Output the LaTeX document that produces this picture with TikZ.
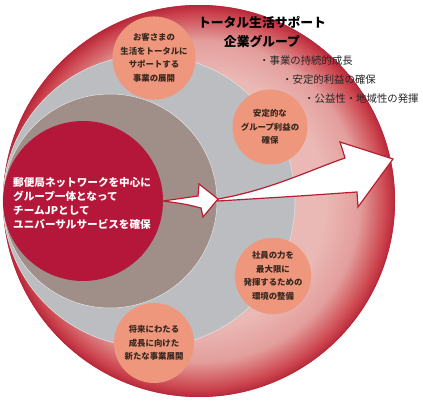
\documentclass[tikz,border=0pt]{standalone}
\usepackage{fontspec}
\setmainfont{Noto Sans CJK JP}
\definecolor{pk}{HTML}{EBB9B5}
\definecolor{pk2}{HTML}{E39E9C}
\definecolor{rd}{HTML}{CD4750}
\definecolor{drd}{HTML}{B8283A}
\definecolor{grayc}{HTML}{BCBDC0}
\definecolor{taupe}{HTML}{A08E88}
\definecolor{crim}{HTML}{B5173A}
\definecolor{salmon}{HTML}{EF977C}
\definecolor{arrowred}{HTML}{B51F2F}
\definecolor{txtc}{HTML}{3A2820}
\pgfdeclareradialshading{ballshade}{\pgfpoint{0bp}{0bp}}{color(0bp)=(pk); color(16bp)=(pk); color(20.5bp)=(pk2); color(23.8bp)=(rd); color(25bp)=(drd); color(50bp)=(drd)}
\begin{document}
\begin{tikzpicture}[x=1pt,y=-1pt,
  bubble/.style={circle, fill=salmon, inner sep=0pt, align=center, text=txtc,
    font=\bfseries\fontsize{8.4}{13.6}\selectfont},
  bullet/.style={anchor=west, inner sep=0pt, text=black!85, font=\fontsize{10.4}{12}\selectfont},
  whitearrow/.style={fill=white, draw=arrowred, line width=1.2pt, line join=miter}]
\useasboundingbox (0,0) rectangle (423,401);
% outer sphere
\shade[shading=ballshade] (199,201) circle[radius=196pt];
\draw[drd, line width=0.8pt] (199,201) circle[radius=195.6pt];
% nested circles tangent at the left
\fill[grayc] (149,201) circle[radius=146pt];
\draw[white!75!gray, line width=0.6pt] (149,201) circle[radius=146pt];
\fill[taupe] (110,201) circle[radius=107pt];
\draw[white!80!gray, line width=0.5pt] (110,201) circle[radius=107pt];
\fill[crim] (83,201) circle[radius=80pt];
% bubbles
\node[bubble, minimum size=79pt] (s1) at (154,58) {お客さまの\\生活をトータルに\\サポートする\\事業の展開};
\node[bubble, minimum size=75pt] (s2) at (270,127) {安定的な\\グループ利益の\\確保};
\node[bubble, minimum size=74pt] (s3) at (273,276) {社員の力を\\最大限に\\発揮するための\\環境の整備};
\node[bubble, minimum size=80pt] (s4) at (154,343) {将来にわたる\\成長に向けた\\新たな事業展開};
% arrows
\coordinate (a0) at (163,201);
\coordinate (a1) at (218,199);
\coordinate (a2) at (393,159);
\draw[whitearrow] (a0) .. controls (180,199) .. (198,196) -- (199,184) -- (a1) -- (203,217) -- (201,208) .. controls (185,204) .. (a0) -- cycle;
\draw[whitearrow] (a1) .. controls (270,190) and (310,170) .. (345,158) -- (340,142) -- (a2) -- (358,207) -- (357,192) .. controls (300,196) .. (218,201) -- cycle;
% main text
\node[anchor=west, align=left, inner sep=0pt, text=white, font=\bfseries\fontsize{10.6}{14}\selectfont] (main) at (13,203) {郵便局ネットワークを中心に\\グループ一体となって\\チームJPとして\\ユニバーサルサービスを確保};
% title and bullets
\node[align=center, inner sep=0pt, text=black, font=\bfseries\fontsize{12.8}{19}\selectfont] (title) at (262,32.5) {トータル生活サポート\\企業グループ};
\node[bullet] (b1) at (259,61) {・事業の持続的成長};
\node[bullet] (b2) at (282,80) {・安定的利益の確保};
\node[bullet] (b3) at (304,99) {・公益性・地域性の発揮};
\end{tikzpicture}
\end{document}
